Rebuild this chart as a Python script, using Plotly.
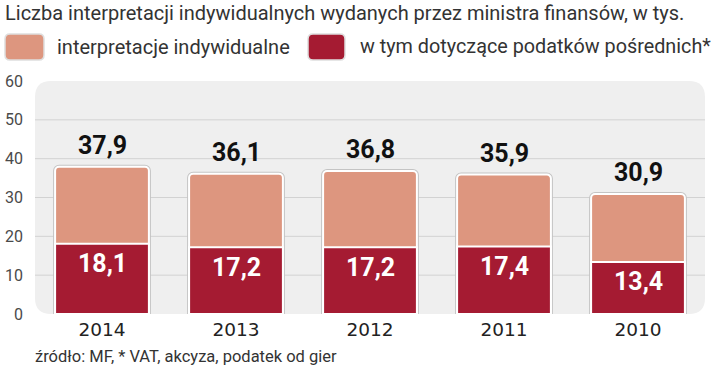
import plotly.graph_objects as go

# ---- data ----
years = ["2014", "2013", "2012", "2011", "2010"]
total = [37.9, 36.1, 36.8, 35.9, 30.9]
indirect = [18.1, 17.2, 17.2, 17.4, 13.4]
y_ticks = [0, 10, 20, 30, 40, 50, 60]
grid_vals = [10, 20, 30, 40, 50]
series_names = ["interpretacje indywidualne", "w tym dotyczące podatków pośrednich*"]
title_text = "Liczba interpretacji indywidualnych wydanych przez ministra finansów, w tys."
source_text = "źródło: MF, * VAT, akcyza, podatek od gier"

# ---- style ----
W, H = 720, 367
ML, MR, MT, MB = 35, 15, 81, 53
PW, PH = W - ML - MR, H - MT - MB
LIGHT = "#dd967f"
DARK = "#a51b32"
BG = "#efefef"
GRID = "#d2d2d2"
EDGE = "#c4c4c4"
FONT = "Roboto, sans-serif"
BAR_W = 0.7

xpos = list(range(len(years)))


def px2x(px):
    return (px - ML) / PW


def py2y(py):
    return (H - MB - py) / PH


def rrect(x0, y0, x1, y1, r):
    """rounded rectangle path in paper coords from pixel box"""
    X = lambda p: px2x(p)
    Y = lambda p: py2y(p)
    return (f"M {X(x0 + r)},{Y(y0)} L {X(x1 - r)},{Y(y0)} Q {X(x1)},{Y(y0)} {X(x1)},{Y(y0 + r)} "
            f"L {X(x1)},{Y(y1 - r)} Q {X(x1)},{Y(y1)} {X(x1 - r)},{Y(y1)} "
            f"L {X(x0 + r)},{Y(y1)} Q {X(x0)},{Y(y1)} {X(x0)},{Y(y1 - r)} "
            f"L {X(x0)},{Y(y0 + r)} Q {X(x0)},{Y(y0)} {X(x0 + r)},{Y(y0)} Z")


fig = go.Figure()
# thin grey edge behind the white bar border
fig.add_trace(go.Bar(x=xpos, y=total, marker=dict(color=EDGE, line=dict(color=EDGE, width=4)),
                     width=BAR_W, hoverinfo="skip", showlegend=False))
fig.add_trace(go.Bar(x=xpos, y=total, name=series_names[0],
                     marker=dict(color=LIGHT, line=dict(color="white", width=2)), width=BAR_W))
fig.add_trace(go.Bar(x=xpos, y=indirect, name=series_names[1],
                     marker=dict(color=DARK, line=dict(color="white", width=2)), width=BAR_W))

shapes = []
shapes.append(dict(type="path", xref="paper", yref="paper", layer="below",
                   path=rrect(ML, MT, ML + PW, MT + PH, 16), fillcolor=BG, line=dict(width=0)))
for g in grid_vals:
    shapes.append(dict(type="line", xref="paper", yref="y", x0=0, x1=1, y0=g, y1=g, layer="between",
                       line=dict(color=GRID, width=1)))
shapes.append(dict(type="path", xref="paper", yref="paper", path=rrect(5, 34, 44, 60, 5),
                   fillcolor=LIGHT, line=dict(color="#dedede", width=1.5)))
shapes.append(dict(type="path", xref="paper", yref="paper", path=rrect(308, 34, 345, 60, 5),
                   fillcolor=DARK, line=dict(color="#dedede", width=1.5)))

ann = []
ann.append(dict(text=title_text, xref="paper", yref="paper", x=px2x(3), y=py2y(13), xanchor="left", yanchor="middle",
                showarrow=False, font=dict(family=FONT, size=20, color="#333333")))
ann.append(dict(text=series_names[0], xref="paper", yref="paper", x=px2x(55), y=py2y(47), xanchor="left",
                yanchor="middle", showarrow=False, font=dict(family=FONT, size=20, color="#333333")))
ann.append(dict(text=series_names[1], xref="paper", yref="paper", x=px2x(358), y=py2y(47), xanchor="left",
                yanchor="middle", showarrow=False, font=dict(family=FONT, size=19.8, color="#333333")))
ann.append(dict(text=source_text, xref="paper", yref="paper", x=px2x(33), y=py2y(356), xanchor="left",
                yanchor="middle", showarrow=False, font=dict(family=FONT, size=16.5, color="#333333")))
for xi, t, d in zip(xpos, total, indirect):
    ann.append(dict(text=f"{t:.1f}".replace(".", ","), x=xi, y=t, xref="x", yref="y", xanchor="center",
                    yanchor="bottom", yshift=5, showarrow=False,
                    font=dict(family=FONT, size=25, color="#111111", weight="bold")))
    ann.append(dict(text=f"{d:.1f}".replace(".", ","), x=xi, y=d, xref="x", yref="y", xanchor="center",
                    yanchor="middle", yshift=-20, showarrow=False,
                    font=dict(family=FONT, size=25, color="white", weight="bold")))

fig.update_layout(
    width=W, height=H, margin=dict(l=ML, r=MR, t=MT, b=MB, autoexpand=False),
    paper_bgcolor="white", plot_bgcolor="rgba(0,0,0,0)",
    barmode="overlay", barcornerradius=4, showlegend=False,
    shapes=shapes, annotations=ann,
    xaxis=dict(range=[-0.5, len(years) - 0.5], tickvals=xpos, ticktext=years, showgrid=False, zeroline=False,
               showline=False, ticks="", tickfont=dict(family="DejaVu Sans", size=18.5, color="#222222"),
               ticklabelstandoff=2, automargin=False),
    yaxis=dict(range=[0, 60], tickvals=y_ticks, showgrid=False, zeroline=False, showline=False, ticks="",
               tickfont=dict(family=FONT, size=16, color="#4a4a4a"), ticklabelstandoff=11, automargin=False),
)

fig.write_html("out.html", post_script="document.body.style.margin='0';",
               config={"displayModeBar": False})
